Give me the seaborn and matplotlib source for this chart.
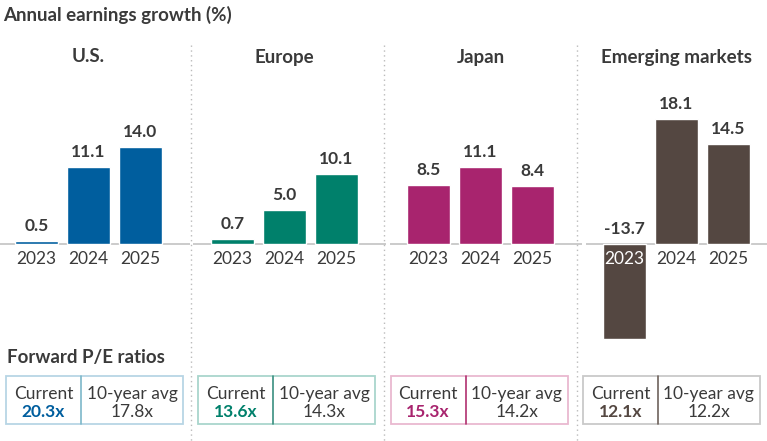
import matplotlib
matplotlib.use("Agg")
import matplotlib.pyplot as plt
from matplotlib.patches import Rectangle
import seaborn as sns
import pandas as pd

# =========================
# data
# =========================
regions = ["U.S.", "Europe", "Japan", "Emerging markets"]
years = ["2023", "2024", "2025"]
us_growth = [0.5, 11.1, 14.0]
europe_growth = [0.7, 5.0, 10.1]
japan_growth = [8.5, 11.1, 8.4]
em_growth = [-13.7, 18.1, 14.5]
pe_current = ["20.3x", "13.6x", "15.3x", "12.1x"]
pe_10yr_avg = ["17.8x", "14.3x", "14.2x", "12.2x"]

growth = [us_growth, europe_growth, japan_growth, em_growth]
colors = ["#005E9E", "#00806B", "#A8246E", "#544741"]
box_outer = ["#B7D5E5", "#A9D6CD", "#E9B9D0", "#C9C9C9"]
box_inner = ["#7DB8C9", "#3A8F80", "#B0306F", "#6E625C"]
text_col = "#3A3A3A"

sns.set_theme(style="white")
plt.rcParams["font.family"] = ["Lato", "DejaVu Sans"]

W, H = 767, 441
fig = plt.figure(figsize=(W / 100, H / 100), dpi=100)

# overlay axes in pixel coords (y downward) for text, boxes, separators
ov = fig.add_axes([0, 0, 1, 1], zorder=0)
ov.set_xlim(0, W)
ov.set_ylim(H, 0)
ov.axis("off")

# bar geometry in pixels
step = 52.0          # px per category
px_per_unit = 6.9    # px per percent
base_y = 244.0
ymin, ymax = -15, 20
xmin, xmax = -0.75, 2.95

for i, (region, vals) in enumerate(zip(regions, growth)):
    c0 = 36.5 + 196 * i
    left = c0 + xmin * step
    width = (xmax - xmin) * step
    top = base_y - ymax * px_per_unit
    bottom = base_y - ymin * px_per_unit
    ax = fig.add_axes([left / W, 1 - bottom / H, width / W, (bottom - top) / H], zorder=2)
    ax.patch.set_alpha(0)

    df = pd.DataFrame({"year": years, "growth": vals})
    sns.barplot(data=df, x="year", y="growth", color=colors[i], width=0.83,
                saturation=1, ax=ax)
    ax.set_xlim(xmin, xmax)
    ax.set_ylim(ymin, ymax)
    ax.axhline(0, color="#BDBDBD", lw=1.1, zorder=0)

    for j, v in enumerate(vals):
        ax.annotate(f"{v:.1f}", xy=(j, max(v, 0)), xytext=(0, 5),
                    textcoords="offset points", ha="center", va="bottom",
                    fontsize=12.5, fontweight="bold", color=text_col)

    ax.set_xlabel("")
    ax.set_ylabel("")
    ax.set_yticks([])
    sns.despine(ax=ax, left=True, bottom=True)
    # tick labels sit right under the zero line, drawn over the bars
    ax.set_axisbelow(False)
    ax.spines["bottom"].set_position(("data", 0))
    ax.tick_params(axis="x", length=0, pad=5, labelsize=12.5, labelcolor=text_col)
    for j, lab in enumerate(ax.get_xticklabels()):
        if vals[j] < 0:
            lab.set_color("white")

    # panel title
    ax.annotate(region, xy=(1, H - 57), xycoords=("data", "figure pixels"),
                ha="center", va="center", fontsize=13.5, fontweight="bold",
                color=text_col)

# dotted separators
for sx in [190.5, 384.3, 577.0]:
    ov.plot([sx, sx], [45, H], color="#BBBBBB", lw=1, ls=(0, (1, 2.5)))

# headers
ov.text(3, 15, "Annual earnings growth (%)", fontsize=13.5, fontweight="bold",
        color=text_col, ha="left", va="center")
ov.text(7, 357, "Forward P/E ratios", fontsize=13.5, fontweight="bold",
        color=text_col, ha="left", va="center")

# P/E boxes
for i in range(4):
    bx = 6 + 192.3 * i
    bw = 177
    div = bx + 75
    ov.add_patch(Rectangle((bx, 376), bw, 48, fill=False, ec=box_outer[i], lw=1.3))
    ov.plot([div, div], [376, 424], color=box_inner[i], lw=1.2)
    cx1 = (bx + div) / 2
    cx2 = (div + bx + bw) / 2
    ov.text(cx1, 394, "Current", fontsize=12.5, color=text_col, ha="center", va="center")
    ov.text(cx1, 412, pe_current[i], fontsize=12.5, fontweight="bold",
            color=colors[i], ha="center", va="center")
    ov.text(cx2, 394, "10-year avg", fontsize=12.5, color=text_col, ha="center", va="center")
    ov.text(cx2, 412, pe_10yr_avg[i], fontsize=12.5, color=text_col, ha="center", va="center")

fig.savefig("out.png", dpi=100)
